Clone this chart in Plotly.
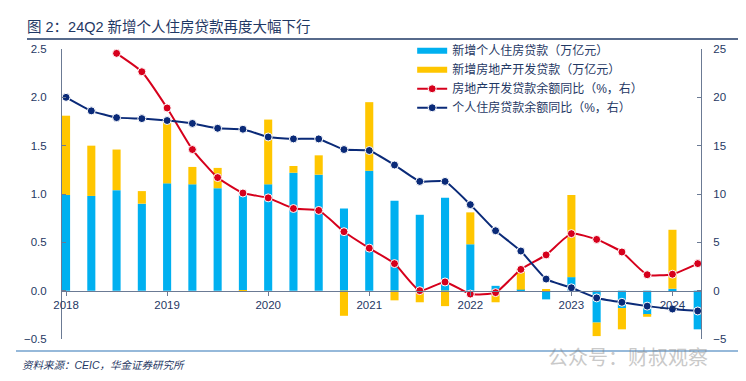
import plotly.graph_objects as go

quarters = ["2018Q1","2018Q2","2018Q3","2018Q4","2019Q1","2019Q2","2019Q3","2019Q4",
            "2020Q1","2020Q2","2020Q3","2020Q4","2021Q1","2021Q2","2021Q3","2021Q4",
            "2022Q1","2022Q2","2022Q3","2022Q4","2023Q1","2023Q2","2023Q3","2023Q4",
            "2024Q1","2024Q2"]
x_idx = list(range(len(quarters)))

mortgage_new = [0.99, 0.98, 1.04, 0.90, 1.11, 1.10, 1.06, 1.00,
                1.10, 1.22, 1.20, 0.85, 1.24, 0.93, 0.785, 0.96,
                0.48, 0.05, 0.01, -0.09, 0.14, -0.33, -0.18, -0.25,
                0.02, -0.40]
dev_new = [0.82, 0.52, 0.42, 0.13, 0.64, 0.18, 0.21, -0.01,
           0.67, 0.07, 0.20, -0.26, 0.71, -0.10, -0.12, -0.16,
           0.33, -0.12, 0.22, 0.01, 0.85, -0.14, -0.22, -0.02,
           0.61, 0.00]
dev_yoy = [None, None, 24.55, 22.65, 18.9, 14.6, 11.7, 10.1,
           9.6, 8.5, 8.3, 6.1, 4.4, 2.8, 0.0, 0.9,
           -0.35, -0.2, 2.2, 3.7, 5.9, 5.3, 4.0, 1.65,
           1.7, 2.8]
mortgage_yoy = [20.0, 18.6, 17.9, 17.8, 17.6, 17.3, 16.8, 16.7,
                15.9, 15.7, 15.7, 14.6, 14.5, 13.0, 11.3, 11.3,
                8.9, 6.2, 4.1, 1.2, 0.3, -0.75, -1.2, -1.6,
                -1.9, -2.1]
year_ticks = [0, 4, 8, 12, 16, 20, 24]
year_labels = ["2018", "2019", "2020", "2021", "2022", "2023", "2024"]

NAVY = "#1F3864"
FONT = "Liberation Sans, Noto Sans CJK SC, sans-serif"
C_BLUE = "#00B0F0"
C_GOLD = "#FFC600"
C_RED = "#D6001C"
C_NAVYL = "#0A2A78"

# page body has an 8px margin, so the figure is drawn 8px smaller/offset
W, H = 738, 373

fig = go.Figure()
fig.add_trace(go.Bar(x=x_idx, y=mortgage_new, name="新增个人住房贷款（万亿元）",
                     marker=dict(color=C_BLUE, line=dict(width=0)), width=0.32,
                     showlegend=False, legendgroup="a"))
fig.add_trace(go.Bar(x=x_idx, y=dev_new, name="新增房地产开发贷款（万亿元）",
                     marker=dict(color=C_GOLD, line=dict(width=0)), width=0.32,
                     showlegend=False, legendgroup="b"))
# legend swatches (wide rectangles like the original)
fig.add_trace(go.Scatter(x=[None], y=[None], mode="lines", name="新增个人住房贷款（万亿元）",
                         line=dict(color=C_BLUE, width=6), legendgroup="a"))
fig.add_trace(go.Scatter(x=[None], y=[None], mode="lines", name="新增房地产开发贷款（万亿元）",
                         line=dict(color=C_GOLD, width=6), legendgroup="b"))
fig.add_trace(go.Scatter(x=x_idx, y=dev_yoy, name="房地产开发贷款余额同比（%，右）",
                         yaxis="y2", mode="lines+markers",
                         line=dict(color=C_RED, width=2, shape="spline", smoothing=0.5),
                         marker=dict(size=8, color=C_RED, line=dict(color="white", width=1))))
fig.add_trace(go.Scatter(x=x_idx, y=mortgage_yoy, name="个人住房贷款余额同比（%，右）",
                         yaxis="y2", mode="lines+markers",
                         line=dict(color=C_NAVYL, width=2, shape="spline", smoothing=0.4),
                         marker=dict(size=8, color=C_NAVYL, line=dict(color="white", width=1))))

AX = "#6B7A94"
fig.update_layout(
    width=W, height=H,
    margin=dict(l=54, r=45, t=41, b=42, autoexpand=False),
    paper_bgcolor="white", plot_bgcolor="white",
    barmode="relative",
    font=dict(family=FONT, color=NAVY, size=11),
    showlegend=True,
    legend=dict(x=0.548, y=1.044, xanchor="left", yanchor="top",
                font=dict(size=12, color=NAVY, family=FONT),
                bgcolor="rgba(0,0,0,0)", tracegroupgap=0, itemwidth=30,
                traceorder="normal"),
    title=dict(text="图 2：24Q2 新增个人住房贷款再度大幅下行",
               x=19/W, xanchor="left", xref="container",
               y=1-19/H, yanchor="middle", yref="container",
               font=dict(size=14.5, color=NAVY, family=FONT)),
    xaxis=dict(range=[-0.16, 25.13], tickmode="array", tickvals=year_ticks,
               ticktext=year_labels, showgrid=False, zeroline=False,
               showline=True, linecolor=AX, linewidth=1,
               ticks="outside", ticklen=4, tickcolor=AX,
               anchor="free", position=1/6,
               tickfont=dict(size=11.5, color=NAVY)),
    yaxis=dict(range=[-0.5, 2.5], dtick=0.5, tickformat=".1f", showgrid=False,
               zeroline=False, showline=True, linecolor=AX, linewidth=1,
               ticks="inside", ticklen=4, tickcolor=AX, ticklabelstandoff=12,
               tickfont=dict(size=11.5, color=NAVY)),
    yaxis2=dict(range=[-5, 25], dtick=5, overlaying="y", side="right",
                showgrid=False, zeroline=False, showline=True, linecolor=AX,
                linewidth=1, ticks="inside", ticklen=4, tickcolor=AX,
                ticklabelstandoff=9, tickfont=dict(size=11.5, color=NAVY)),
    shapes=[
        dict(type="line", xref="paper", yref="paper",
             x0=(27-62)/639, x1=(741-62)/639, y0=(339-39)/290, y1=(339-39)/290,
             line=dict(color=NAVY, width=1.5)),
        dict(type="line", xref="paper", yref="paper",
             x0=(16-62)/639, x1=(738-62)/639, y0=(339-351)/290, y1=(339-351)/290,
             line=dict(color="#2E75B6", width=1.2)),
    ],
    annotations=[
        dict(text="<i>资料来源：CEIC，华金证券研究所</i>", xref="paper", yref="paper",
             x=(20-62)/639, y=(339-365)/290, xanchor="left", yanchor="middle",
             showarrow=False, font=dict(size=10.5, color=NAVY, family=FONT)),
        dict(text="公众号：财叔观察", xref="paper", yref="paper",
             x=(628-62)/639, y=(339-358)/290, xanchor="center", yanchor="middle",
             showarrow=False, opacity=0.45,
             font=dict(size=20, color="#888888", family=FONT)),
    ],
)

fig.write_html("out.html")
